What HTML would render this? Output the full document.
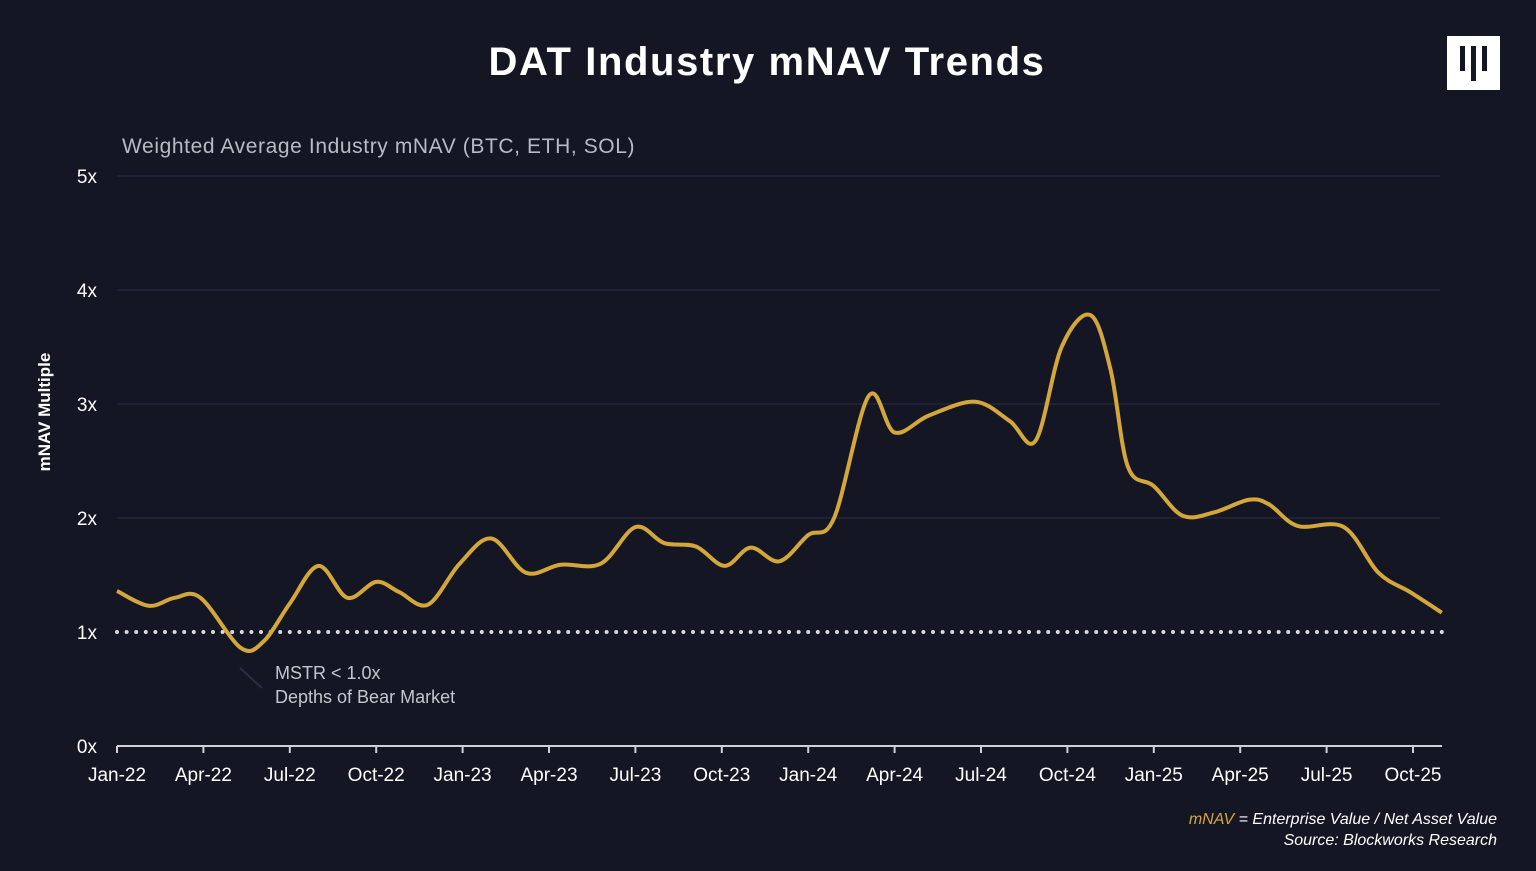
<!DOCTYPE html>
<html><head><meta charset="utf-8"><style>
html,body{margin:0;padding:0;background:#141624;}
body{width:1536px;height:866px;overflow:hidden;font-family:"Liberation Sans",sans-serif;}
</style></head><body>
<svg width="1536" height="866" xmlns="http://www.w3.org/2000/svg">
<rect width="1536" height="866" fill="#141624"/>
<text x="767" y="75" text-anchor="middle" fill="#fff" font-size="40" font-weight="bold" letter-spacing="1.6">DAT Industry mNAV Trends</text>
<g>
<rect x="1447" y="36" width="53" height="54" fill="#fff"/>
<rect x="1460" y="46" width="5" height="25" fill="#141624"/>
<rect x="1471" y="46" width="5" height="35" fill="#141624"/>
<rect x="1482" y="46" width="5" height="25" fill="#141624"/>
</g>
<text x="122" y="153" fill="#b8bac4" font-size="21" letter-spacing="0.6">Weighted Average Industry mNAV (BTC, ETH, SOL)</text>
<text transform="translate(50,412) rotate(-90)" text-anchor="middle" fill="#fff" font-size="17" font-weight="bold">mNAV Multiple</text>
<g id="grid"></g><g id="xaxis"></g>
<path id="line" fill="none" stroke="#d4a73a" stroke-width="4" stroke-linejoin="round"/>
<line x1="240" y1="668" x2="262" y2="688" stroke="#2c2f3e" stroke-width="2"/>
<text x="275" y="679" fill="#c4c6ce" font-size="18">MSTR &lt; 1.0x</text>
<text x="275" y="703" fill="#c4c6ce" font-size="18">Depths of Bear Market</text>
<text x="1497" y="824" text-anchor="end" font-size="16" font-style="italic" fill="#fff"><tspan fill="#d4a73a">mNAV</tspan> = Enterprise Value / Net Asset Value</text>
<text x="1497" y="845" text-anchor="end" font-size="16" font-style="italic" fill="#fff">Source: Blockworks Research</text>
</svg>
<script>
const yTicks=[0,1,2,3,4,5];
const yTickLabels=["0x","1x","2x","3x","4x","5x"];
const xTickLabels=["Jan-22","Apr-22","Jul-22","Oct-22","Jan-23","Apr-23","Jul-23","Oct-23","Jan-24","Apr-24","Jul-24","Oct-24","Jan-25","Apr-25","Jul-25","Oct-25"];
const months=[0,1.1,2,2.9,4.3,5.1,6,7,8,9,9.8,10.8,11.9,13,14.2,15.4,16.8,18,19,20.1,21.1,22,23,24,24.9,26.1,27,28.2,29.8,31,31.9,32.8,33.8,34.5,35.1,36,37,38.1,39.3,40,41,42.6,43.8,44.9,46];
const values=[1.36,1.23,1.30,1.30,0.86,0.92,1.25,1.58,1.30,1.44,1.35,1.24,1.60,1.82,1.52,1.59,1.60,1.92,1.78,1.75,1.58,1.74,1.62,1.85,2.0,3.07,2.75,2.90,3.02,2.85,2.68,3.50,3.78,3.30,2.45,2.28,2.02,2.05,2.16,2.12,1.93,1.92,1.52,1.35,1.17];
const refValue=1;
const X=m=>117+m*28.8, Y=v=>746-v*114;
const NS="http://www.w3.org/2000/svg";
const svg=document.querySelector('svg'),grid=document.getElementById('grid'),xa=document.getElementById('xaxis');
function mk(t,a,p){const e=document.createElementNS(NS,t);for(const k in a)e.setAttribute(k,a[k]);p.appendChild(e);return e;}
yTicks.forEach((v,i)=>{
 if(v>0&&v!==refValue){const l=mk('line',{x1:117,x2:1440,y1:Y(v),y2:Y(v),stroke:'#2a2d3b','stroke-width':1},grid);
 
 }
 const t=mk('text',{x:97,y:Y(v)+7,'text-anchor':'end',fill:'#fff','font-size':19},grid);t.textContent=yTickLabels[i];
 
 
});
const ref=mk('line',{x1:117,x2:1446,y1:Y(refValue),y2:Y(refValue),stroke:'#d8d8de','stroke-width':4,'stroke-linecap':'round','stroke-dasharray':'0 9.6'},grid);


const ax=mk('line',{x1:117,x2:1442,y1:746,y2:746,stroke:'#d0d0d6','stroke-width':2},xa);


xTickLabels.forEach((s,i)=>{const x=X(i*3);
 const tk=mk('line',{x1:x,x2:x,y1:746,y2:753,stroke:'#d0d0d6','stroke-width':2},xa);
 
 
 const t=mk('text',{x:x,y:781,'text-anchor':'middle',fill:'#fff','font-size':19},xa);t.textContent=s;
 
 
});
const P=months.map((m,i)=>[X(m),Y(values[i])]);
let d='M'+P[0][0]+','+P[0][1];
for(let i=0;i<P.length-1;i++){const p0=P[Math.max(0,i-1)],p1=P[i],p2=P[i+1],p3=P[Math.min(P.length-1,i+2)];
 const c1=[p1[0]+(p2[0]-p0[0])/6,p1[1]+(p2[1]-p0[1])/6],c2=[p2[0]-(p3[0]-p1[0])/6,p2[1]-(p3[1]-p1[1])/6];
 d+=' C'+c1+' '+c2+' '+p2;}
document.getElementById('line').setAttribute('d',d);
</script>
</body></html>
